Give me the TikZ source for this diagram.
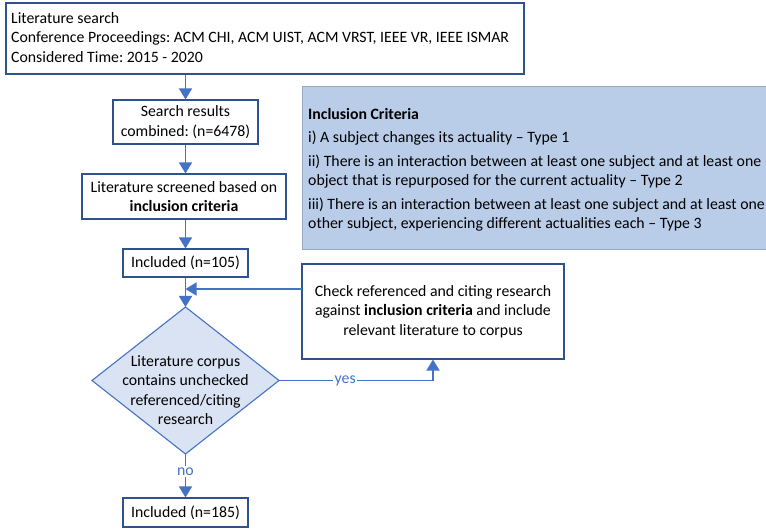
\documentclass[tikz,border=0pt]{standalone}
\usepackage{fontspec}
\setmainfont{Carlito}
\frenchspacing
\usetikzlibrary{arrows.meta}
\definecolor{flowblue}{HTML}{4472C4}
\definecolor{framenavy}{HTML}{2F528F}
\definecolor{critfill}{HTML}{B9CCE8}
\definecolor{critframe}{HTML}{98A8C4}
\definecolor{decfill}{HTML}{DAE3F3}

\begin{document}
\begin{tikzpicture}[x=1pt,y=-1pt,
  txt/.style={font=\fontsize{15.8}{19.5}\selectfont},
  stepbox/.style={draw=framenavy, line width=1.1pt, fill=white, inner sep=0pt,
                  txt, align=center},
  flow/.style={draw=flowblue, line width=1.6pt,
               -{Triangle[width=13pt,length=11pt]}},
  lab/.style={txt, text=flowblue, fill=white, inner sep=1.5pt}]

\clip (0,0) rectangle (766,529);
\fill[white] (0,0) rectangle (766,529);

% Search scope
\node[stepbox, minimum width=518pt, minimum height=71pt] (search) at (265,38.5) {};
\node[txt, align=left, inner sep=0pt, anchor=west] (searchtext) at (11,37.5)
  {Literature search\\
   Conference Proceedings: ACM CHI, ACM UIST, ACM VRST, IEEE VR, IEEE ISMAR\\
   Considered Time: 2015 - 2020};

% Inclusion criteria panel
\node[draw=critframe, fill=critfill, line width=1pt, minimum width=480pt,
      minimum height=163pt, inner sep=0pt] (crit) at (542,168.5) {};
\node[txt, align=left, inner sep=0pt, anchor=west] (crittext) at (308,170)
  {\textbf{Inclusion Criteria}\\[4pt]
   i) A subject changes its actuality -- Type 1\\[4pt]
   ii) There is an interaction between at least one subject and at least one\\
   object that is repurposed for the current actuality -- Type 2\\[4pt]
   iii) There is an interaction between at least one subject and at least one\\
   other subject, experiencing different actualities each -- Type 3};

% Main flow
\node[stepbox, minimum width=145pt, minimum height=44pt] (comb) at (185.5,122)
  {Search results\\combined: (n=6478)};
\node[stepbox, minimum width=204pt, minimum height=45pt] (screen) at (184,196.5)
  {Literature screened based on\\\textbf{inclusion criteria}};
\node[stepbox, minimum width=125pt, minimum height=28pt] (inc) at (185.5,263)
  {Included (n=105)};
\node[stepbox, minimum width=262pt, minimum height=95pt] (check) at (433,311.5)
  {Check referenced and citing research\\
   against \textbf{inclusion criteria} and include\\
   relevant literature to corpus};
\node[stepbox, minimum width=125pt, minimum height=29pt] (final) at (185.5,512.5)
  {Included (n=185)};

% Decision diamond
\coordinate (dtop) at (185.5,307);
\coordinate (dright) at (279,380.5);
\coordinate (dbottom) at (185.5,454);
\coordinate (dleft) at (92,380.5);
\draw[draw=flowblue, fill=decfill, line width=1.1pt]
  (dtop) -- (dright) -- (dbottom) -- (dleft) -- cycle;
\node[txt, align=center, inner sep=0pt] (dec) at (185.5,390)
  {Literature corpus\\contains unchecked\\referenced/citing\\research};

% Connectors
\draw[flow] (search.south -| comb.north) -- (comb.north);
\draw[flow] (comb.south) -- (comb.south |- screen.north);
\draw[flow] (comb.south |- screen.south) -- (inc.north);
\draw[flow] (inc.south) -- (dtop);
\coordinate (fbk) at (302,289);
\draw[flow] (fbk) -- (fbk -| inc.south);
\draw[flow] (dright) -- node[lab, pos=0.43] {yes} (dright -| check.south)
  -- (check.south);
\draw[flow] (dbottom) -- node[lab, pos=0.41] {no} (final.north);

\end{tikzpicture}
\end{document}
